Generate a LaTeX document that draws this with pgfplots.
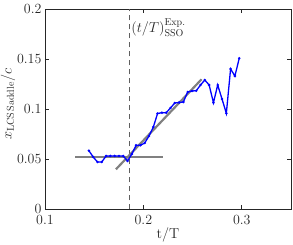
\documentclass[border=0pt]{standalone}
\usepackage{pgfplots}
\pgfplotsset{compat=1.18}
\pgfplotstableread{
t v
0.1446 0.0586
0.1490 0.0523
0.1533 0.0473
0.1577 0.0473
0.1621 0.0533
0.1664 0.0533
0.1708 0.0533
0.1752 0.0533
0.1795 0.0533
0.1839 0.0483
0.1883 0.0553
0.1926 0.0640
0.1970 0.0640
0.2013 0.0663
0.2057 0.0733
0.2101 0.0823
0.2144 0.0958
0.2188 0.0966
0.2232 0.0966
0.2275 0.1013
0.2319 0.1063
0.2363 0.1068
0.2406 0.1073
0.2450 0.1173
0.2494 0.1183
0.2537 0.1186
0.2581 0.1243
0.2624 0.1293
0.2668 0.1243
0.2712 0.1066
0.2755 0.1243
0.2799 0.1103
0.2843 0.0960
0.2886 0.1403
0.2930 0.1333
0.2974 0.1510
}\data
\definecolor{axisgray}{RGB}{38,38,38}
\definecolor{fitgray}{RGB}{128,128,128}
\definecolor{dashgray}{RGB}{95,95,95}
\begin{document}
\begin{tikzpicture}
\begin{axis}[
  scale only axis,
  width=246pt, height=200pt,
  xmin=0.1, xmax=0.35, ymin=0, ymax=0.2,
  xtick={0.1,0.2,0.3}, xticklabels={0.1,0.2,0.3},
  ytick={0,0.05,0.1,0.15,0.2}, yticklabels={0,0.05,0.1,0.15,0.2},
  tick align=inside,
  tick pos=both,
  major tick length=4pt,
  axis line style={axisgray, line width=0.8pt},
  every tick/.style={axisgray, line width=0.6pt},
  tick label style={font=\fontsize{14}{17}\selectfont, text=axisgray},
  xticklabel style={yshift=-2pt},
  label style={font=\fontsize{14}{17}\selectfont, text=axisgray},
  xlabel={$\mathrm{t/T}$},
  ylabel={$x_{\mathrm{LCS\,Saddle}}/c$},
  xlabel style={yshift=4pt},
  ylabel style={yshift=-5pt, xshift=5pt},
  clip=false,
]
\addplot[dashgray, dash pattern=on 5pt off 4pt, line width=1pt] coordinates {(0.186,0) (0.186,0.2)};
\addplot[fitgray, line width=2.2pt] coordinates {(0.1305,0.052) (0.2195,0.052)};
\addplot[fitgray, line width=2.2pt] coordinates {(0.1721,0.040) (0.2591,0.130)};
\addplot[blue, line width=1.3pt, mark=*, mark size=0.5pt] table[x=t,y=v] {\data};
\node[anchor=base west, inner sep=0pt, font=\fontsize{14}{17}\selectfont, text=axisgray] at (axis cs:0.1875,0.1765) {$(t/T)^{\mathrm{Exp.}}_{\mathrm{SSO}}$};
\end{axis}
\pgfresetboundingbox
\path[use as bounding box] (-45pt,-35.7pt) rectangle (248pt,209.3pt);
\end{tikzpicture}
\end{document}
